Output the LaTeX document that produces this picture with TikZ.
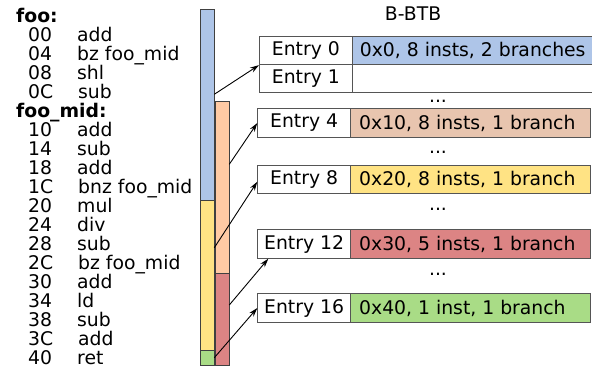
\documentclass[tikz,border=0pt]{standalone}
\usepackage{fontspec}
\setmainfont{DejaVu Sans}
\usetikzlibrary{arrows.meta,calc}
\definecolor{cblue}{HTML}{AEC5E8}
\definecolor{corange}{HTML}{FFCAA4}
\definecolor{ctan}{HTML}{E8C5AF}
\definecolor{cyellow}{HTML}{FFE384}
\definecolor{cred}{HTML}{DC8484}
\definecolor{cgreen}{HTML}{A9DC86}
\definecolor{cborder}{HTML}{555555}
\begin{document}
\begin{tikzpicture}[x=1pt,y=-1pt,
  font=\fontsize{18.8}{20}\selectfont,
  bar/.style={draw=black!75, line width=0.8pt},
  entrycell/.style={draw=cborder, line width=1pt, fill=white, minimum height=28.4pt, anchor=north west, inner sep=0pt},
  infocell/.style={draw=cborder, line width=1pt, minimum height=28.4pt, minimum width=240pt, anchor=north west, inner sep=0pt},
  infotext/.style={anchor=west, inner sep=0pt},
  codeline/.style={anchor=base west, inner sep=0pt},
  dotsnode/.style={anchor=base, inner sep=0pt},
  arr/.style={-{Stealth[length=9pt,width=5.5pt]}, line width=0.9pt, black}
]
\useasboundingbox (0,0) rectangle (592,368);

% code listing
\node[codeline, font=\fontsize{18.8}{20}\selectfont\bfseries] (lfoo) at (16,22.5) {foo:};
\node[codeline] (a00) at (28,41.5) {00}; \node[codeline] (i00) at (77,41.5) {add};
\node[codeline] (a04) at (28,60.5) {04}; \node[codeline] (i04) at (77,60.5) {bz foo\_mid};
\node[codeline] (a08) at (28,79.5) {08}; \node[codeline] (i08) at (77,79.5) {shl};
\node[codeline] (a0C) at (28,98.5) {0C}; \node[codeline] (i0C) at (78,98.5) {sub};
\node[codeline, font=\fontsize{18.8}{20}\selectfont\bfseries] (lmid) at (16,117.5) {foo\_mid:};
\node[codeline] (a10) at (28,136.5) {10}; \node[codeline] (i10) at (77,136.5) {add};
\node[codeline] (a14) at (28,155.5) {14}; \node[codeline] (i14) at (77,155.5) {sub};
\node[codeline] (a18) at (28,174.5) {18}; \node[codeline] (i18) at (77,174.5) {add};
\node[codeline] (a1C) at (28,193.5) {1C}; \node[codeline] (i1C) at (78,193.5) {bnz foo\_mid};
\node[codeline] (a20) at (28,212.5) {20}; \node[codeline] (i20) at (77,212.5) {mul};
\node[codeline] (a24) at (28,231.5) {24}; \node[codeline] (i24) at (77,231.5) {div};
\node[codeline] (a28) at (28,250.5) {28}; \node[codeline] (i28) at (77,250.5) {sub};
\node[codeline] (a2C) at (28,269.5) {2C}; \node[codeline] (i2C) at (78,269.5) {bz foo\_mid};
\node[codeline] (a30) at (28,288.5) {30}; \node[codeline] (i30) at (77,288.5) {add};
\node[codeline] (a34) at (28,307.5) {34}; \node[codeline] (i34) at (77,307.5) {ld};
\node[codeline] (a38) at (28,326.5) {38}; \node[codeline] (i38) at (77,326.5) {sub};
\node[codeline] (a3C) at (28,345.5) {3C}; \node[codeline] (i3C) at (78,345.5) {add};
\node[codeline] (a40) at (28,364.5) {40}; \node[codeline] (i40) at (77,364.5) {ret};

% bars
\draw[bar, fill=cblue]   (200.7,9) rectangle (214.3,200);
\draw[bar, fill=cyellow] (200.7,200) rectangle (214.3,350.7);
\draw[bar, fill=cgreen]  (200.7,350.7) rectangle (214.3,365.7);
\draw[bar, fill=corange] (215,101) rectangle (229.3,273);
\draw[bar, fill=cred]    (215,273) rectangle (229.3,365.7);

\coordinate (s1) at (214.3,94.3);
\coordinate (s2) at (229.3,164.3);
\coordinate (s3) at (214.3,247.7);
\coordinate (s4) at (229.3,305);
\coordinate (s5) at (214.3,357.7);

% table
\node (title) at (413,14) {B-BTB};
\node[entrycell, minimum width=92.7pt] (e0) at (259,35.7) {Entry 0};
\node[infocell, fill=cblue] (c0) at (351.7,35.7) {};
\node[infotext] (x0) at ($(c0.west)+(8,0)$) {0x0, 8 insts, 2 branches};
\node[entrycell, minimum width=92.7pt] (e1) at (259,64) {Entry 1};
\node[infocell, fill=white] (c1) at (351.7,64) {};
\node[dotsnode] (d1) at (438,102) {...};
\node[entrycell, minimum width=92.7pt] (e4) at (257.3,108.3) {Entry 4};
\node[infocell, fill=ctan] (c4) at (350,108.3) {};
\node[infotext] (x4) at ($(c4.west)+(9,0)$) {0x10, 8 insts, 1 branch};
\node[dotsnode] (d2) at (438,153.5) {...};
\node[entrycell, minimum width=92.7pt] (e8) at (257.3,165) {Entry 8};
\node[infocell, fill=cyellow] (c8) at (350,165) {};
\node[infotext] (x8) at ($(c8.west)+(9,0)$) {0x20, 8 insts, 1 branch};
\node[dotsnode] (d3) at (438,210) {...};
\node[entrycell, minimum width=92.7pt] (e12) at (257.3,229.3) {Entry 12};
\node[infocell, fill=cred] (c12) at (350,229.3) {};
\node[infotext] (x12) at ($(c12.west)+(9,0)$) {0x30, 5 insts, 1 branch};
\node[dotsnode] (d4) at (438,275.3) {...};
\node[entrycell, minimum width=92.7pt] (e16) at (257.3,293.3) {Entry 16};
\node[infocell, fill=cgreen] (c16) at (350,293.3) {};
\node[infotext] (x16) at ($(c16.west)+(9,0)$) {0x40, 1 inst, 1 branch};

\coordinate (t4) at ($(e12.south west)+(11,0)$);

% arrows
\draw[arr] (s1) -- (e0.south west);
\draw[arr] (s2) -- (e4.west);
\draw[arr] (s3) -- ([yshift=-2pt]e8.west);
\draw[arr] (s4) -- (t4);
\draw[arr] (s5) -- (e16.west);
\end{tikzpicture}
\end{document}
